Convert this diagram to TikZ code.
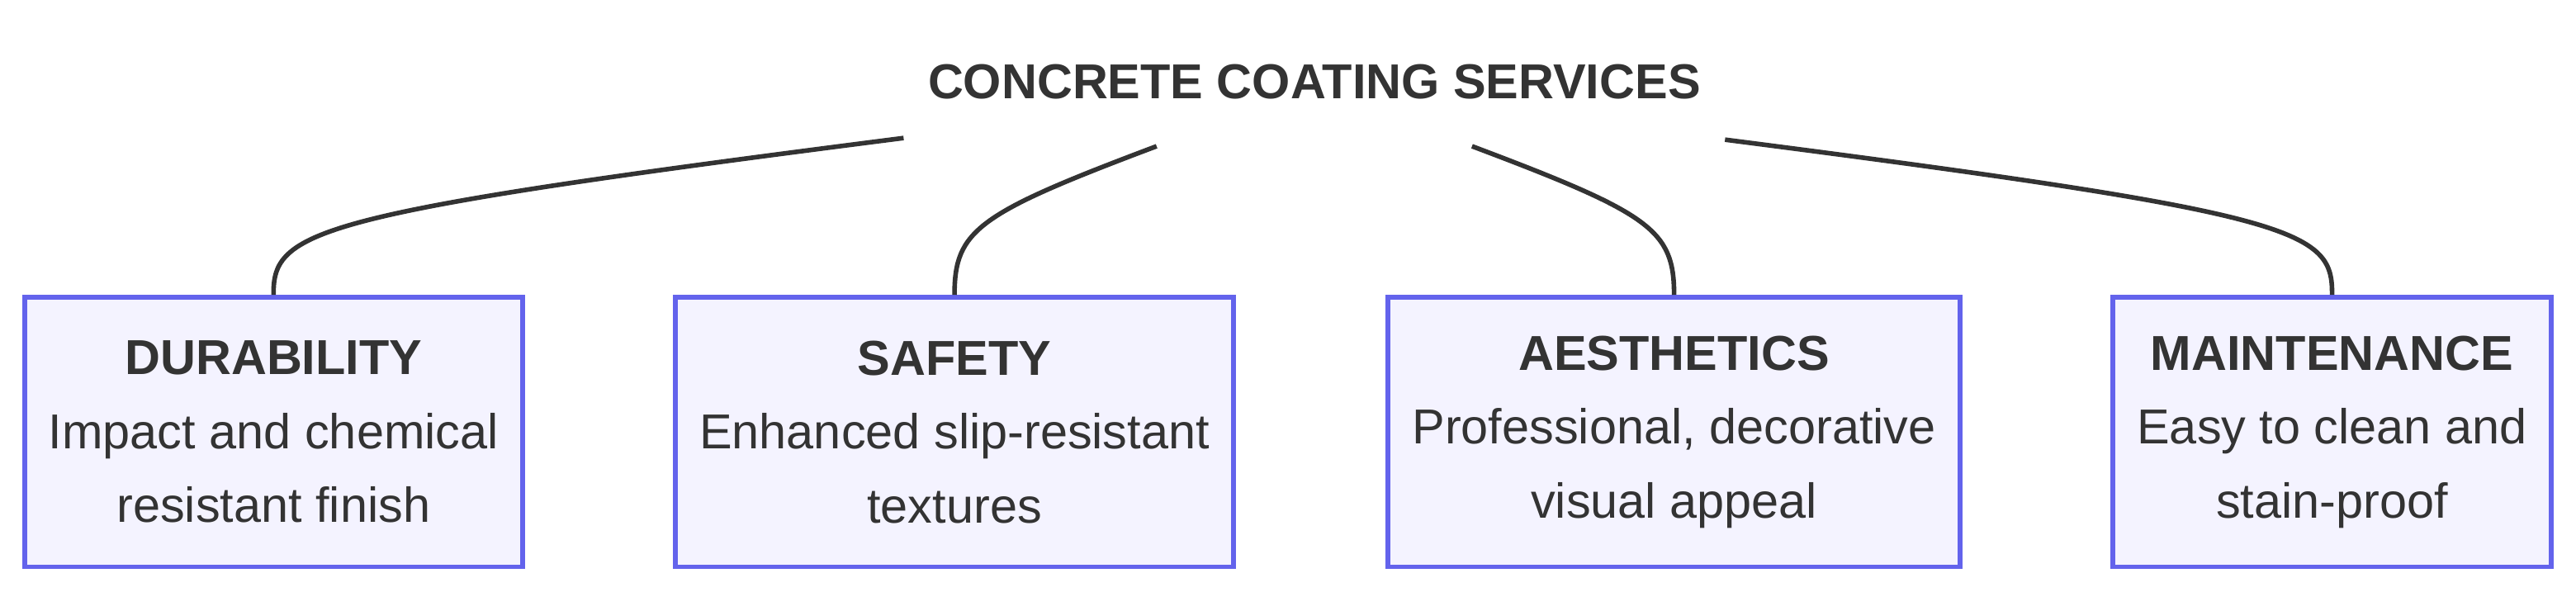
\documentclass[tikz,border=0pt]{standalone}
\usepackage{fontspec}
\setmainfont{Liberation Sans}
\usetikzlibrary{positioning}
\definecolor{boxfill}{HTML}{F4F3FF}
\definecolor{boxline}{HTML}{6363EC}
\definecolor{ink}{HTML}{333333}
\tikzset{
	area/.style={draw=boxline, fill=boxfill, line width=1.7pt, minimum height=3.28cm,
		align=center, text=ink, font=\fontsize{17}{25.6}\selectfont},
	link/.style={draw=ink, line width=1.6pt}
}
\begin{document}
\begin{tikzpicture}[x=0.02cm,y=-0.02cm]
		\useasboundingbox (0,0) rectangle (1568,360);
		\node[text=ink, font=\bfseries\fontsize{17}{20}\selectfont] (title) at (800,50) {CONCRETE COATING SERVICES};
		\node[area, minimum width=6.06cm] (dur) at (166.5,263) {\textbf{DURABILITY}\\Impact and chemical\\resistant finish};
		\node[area, minimum width=6.8cm] (saf) at (581,263) {\textbf{SAFETY}\\Enhanced slip-resistant\\textures};
		\node[area, minimum width=6.96cm] (aes) at (1019,263) {\textbf{AESTHETICS}\\Professional, decorative\\visual appeal};
		\node[area, minimum width=5.34cm] (mai) at (1419.5,263) {\textbf{MAINTENANCE}\\Easy to clean and\\stain-proof};
		% connectors from the title
		\coordinate (t1) at (550,84);
		\coordinate (t2) at (704,89);
		\coordinate (t3) at (896,89);
		\coordinate (t4) at (1050,85);
		\draw[link] (t1) .. controls (190,130) and (166,140) .. (dur.north);
		\draw[link] (t2) .. controls (595,130) and (581,140) .. (saf.north);
		\draw[link] (t3) .. controls (1005,130) and (1019,140) .. (aes.north);
		\draw[link] (t4) .. controls (1400,130) and (1420,140) .. (mai.north);
\end{tikzpicture}
\end{document}
